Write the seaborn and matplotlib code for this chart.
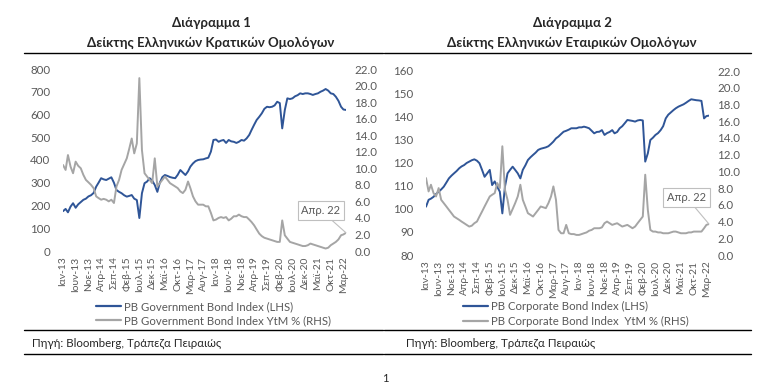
import pandas as pd
import numpy as np
import matplotlib.pyplot as plt
import seaborn as sns
from matplotlib.lines import Line2D

# monthly readings, Jan-13 .. Apr-22
gov_index = [175, 185, 170, 195, 210, 190, 205, 215, 225, 230, 240, 245,
             255, 283, 300, 320, 315, 312, 318, 324, 300, 268, 260, 254,
             245, 239, 242, 246, 230, 224, 145, 254, 298, 305, 320, 310,
             290, 260, 300, 325, 334, 330, 325, 322, 320, 335, 356, 345,
             334, 350, 371, 385, 395, 400, 402, 403, 407, 410, 437, 488,
             490, 480, 485, 488, 475, 488, 482, 480, 475, 480, 488, 485,
             495, 510, 532, 555, 576, 590, 605, 625, 634, 632, 634, 640,
             656, 650, 539, 620, 671, 668, 671, 680, 685, 693, 690, 693,
             693, 690, 686, 690, 693, 700, 705, 712, 705, 693, 690, 678,
             660, 634, 622, 620]
gov_ytm = [10.4, 9.8, 11.6, 10.2, 9.4, 10.8, 10.3, 10.0, 9.2, 8.6, 8.3, 8.0,
           7.6, 6.6, 6.4, 6.2, 6.3, 6.2, 6.0, 6.2, 5.8, 7.8, 8.6, 9.8,
           10.5, 11.2, 12.3, 13.6, 11.8, 13.0, 20.9, 12.2, 9.4, 9.0, 8.6, 8.2,
           11.2, 7.8, 8.2, 8.6, 9.0, 8.6, 8.2, 8.0, 7.8, 7.6, 7.2, 7.0,
           7.4, 8.4, 7.6, 6.6, 6.0, 5.6, 5.6, 5.6, 5.4, 5.4, 4.6, 3.7,
           3.8, 4.0, 4.1, 4.0, 4.1, 3.7, 3.9, 4.2, 4.2, 4.4, 4.2, 4.1,
           4.1, 3.8, 3.5, 3.1, 2.6, 2.1, 1.8, 1.6, 1.5, 1.4, 1.3, 1.2,
           1.1, 1.1, 3.7, 1.9, 1.5, 1.1, 1.0, 0.9, 0.8, 0.7, 0.6, 0.6,
           0.7, 0.9, 0.8, 0.7, 0.6, 0.5, 0.4, 0.3, 0.4, 0.7, 0.9, 1.1,
           1.4, 1.9, 2.0, 2.2]
corp_index = [101, 104, 104.5, 105.3, 106.5, 107.5, 108.5, 109.7, 111.5, 113.3, 114.5, 115.5,
              116.5, 117.7, 118.5, 119.1, 120, 120.6, 121.2, 121.6, 121, 119.9, 117, 114,
              115.5, 117, 110.4, 112, 109.7, 107.5, 98.1, 109.7, 115.5, 117, 118.4, 117,
              115.5, 113.3, 117, 119, 121.3, 122.5, 123.5, 124.5, 125.7, 126.2, 126.5, 126.8,
              127.3, 128.3, 129.3, 130.7, 131.5, 132.6, 133.6, 134, 134.5, 135.1, 135.1, 135.1,
              135.5, 135.5, 135.8, 135.5, 135.1, 134, 132.9, 133.5, 133.6, 134.3, 132.2, 133,
              133.5, 134.3, 132.9, 133.5, 135.1, 136, 137.3, 138.7, 138.5, 138.3, 138, 138.5,
              138.7, 138.5, 120.6, 124.2, 130, 131, 132.2, 133, 134.3, 136, 139.4, 141,
              142, 143, 143.8, 144.5, 145, 145.5, 146.2, 147, 147.7, 147.5, 147.3, 147.2,
              147, 139.4, 140.4, 140.6]
corp_ytm = [9.2, 7.6, 8.4, 7.4, 7.0, 8.0, 6.6, 6.2, 5.8, 5.4, 5.0, 4.6,
            4.4, 4.2, 4.0, 3.8, 3.6, 3.4, 3.5, 3.8, 4.0, 4.6, 5.2, 5.8,
            6.4, 7.0, 7.2, 7.4, 8.6, 8.0, 13.0, 7.8, 6.6, 4.8, 5.5, 6.2,
            7.0, 8.4, 6.6, 5.8, 5.0, 4.8, 4.6, 5.0, 5.4, 5.8, 5.7, 5.6,
            6.2, 7.0, 8.2, 6.6, 3.0, 2.6, 2.6, 3.6, 2.6, 2.5, 2.5, 2.4,
            2.4, 2.5, 2.6, 2.7, 2.9, 3.0, 3.2, 3.2, 3.2, 3.3, 3.8, 4.0,
            3.8, 3.6, 3.7, 3.8, 3.6, 3.4, 3.5, 3.6, 3.4, 3.2, 3.4, 3.8,
            4.2, 4.6, 9.6, 5.4, 3.0, 2.8, 2.8, 2.7, 2.7, 2.6, 2.6, 2.6,
            2.7, 2.8, 2.8, 2.7, 2.6, 2.6, 2.6, 2.7, 2.7, 2.8, 2.8, 2.8,
            2.8, 3.2, 3.6, 3.7]

tick_labels = ["Ιαν-13", "Ιουν-13", "Νοε-13", "Απρ-14", "Σεπ-14", "Φεβ-15", "Ιουλ-15",
               "Δεκ-15", "Μαϊ-16", "Οκτ-16", "Μαρ-17", "Αυγ-17", "Ιαν-18", "Ιουν-18",
               "Νοε-18", "Απρ-19", "Σεπ-19", "Φεβ-20", "Ιουλ-20", "Δεκ-20", "Μαϊ-21",
               "Οκτ-21", "Μαρ-22"]

sns.set_theme(style="white")
plt.rcParams['font.family'] = ['Lato', 'DejaVu Sans']

dates = pd.date_range("2013-01-01", periods=len(gov_index), freq="MS")
tick_dates = pd.date_range("2013-01-01", periods=len(tick_labels), freq="5MS")
df = pd.DataFrame({"date": dates, "gov_index": gov_index, "gov_ytm": gov_ytm,
                   "corp_index": corp_index, "corp_ytm": corp_ytm})

BLUE = "#2F5597"
GREY = "#A5A5A5"
TXT = "#595959"
W, H = 767, 388

fig = plt.figure(figsize=(W / 100, H / 100), dpi=100)


def fx(px):
    return px / W


def fy(py):
    return 1 - py / H


def panel(x0, x1, y0, y1, idx_col, ytm_col, lims, step, lab_idx, lab_ytm, xleg, note_off):
    ax = fig.add_axes([fx(x0), fy(y1), fx(x1 - x0), (y1 - y0) / H])
    ax2 = ax.twinx()
    sns.lineplot(data=df, x="date", y=idx_col, ax=ax, color=BLUE, lw=1.4, label=lab_idx, legend=False)
    sns.lineplot(data=df, x="date", y=ytm_col, ax=ax2, color=GREY, lw=1.4, label=lab_ytm, legend=False)
    ax.set_ylim(*lims)
    ax.set_yticks(np.arange(lims[0], lims[1] + 1, step))
    ax2.set_ylim(0, 22)
    ax2.set_yticks(np.arange(0, 23, 2))
    ax2.set_yticklabels([f"{v:.1f}" for v in np.arange(0, 23, 2)])
    ax.set_xlim(dates[0], dates[-1])
    ax.set_xticks(tick_dates)
    ax.set_xticklabels(tick_labels, rotation=90)
    for a in (ax, ax2):
        a.set_xlabel("")
        a.set_ylabel("")
        for s in a.spines.values():
            s.set_visible(False)
        a.tick_params(length=0, labelsize=8.3, colors=TXT)
    ax.tick_params(axis="x", labelsize=7.4, pad=4)
    ax.tick_params(axis="y", pad=9)
    ax2.tick_params(axis="y", pad=6)
    ax2.annotate("Απρ. 22", xy=(dates[-1], df[ytm_col].iloc[-1]), xytext=note_off,
                 textcoords="offset points", ha="center", va="center", fontsize=8, color=TXT,
                 bbox=dict(boxstyle="square,pad=0.35", fc="white", ec="#BFBFBF", lw=0.8),
                 arrowprops=dict(arrowstyle="-", color="#BFBFBF", lw=0.8, shrinkA=0, shrinkB=0))
    handles = [Line2D([], [], color=BLUE, lw=1.6), Line2D([], [], color=GREY, lw=1.6)]
    fig.legend(handles, [lab_idx, lab_ytm], loc="upper left", bbox_to_anchor=(fx(xleg), fy(301)),
               frameon=False, fontsize=8.2, labelcolor=TXT, handlelength=2.2, handletextpad=0.3,
               labelspacing=0.3, borderpad=0, borderaxespad=0)
    return ax


panel(63, 346, 69, 251, "gov_index", "gov_ytm", (0, 800), 100,
      "PB Government Bond Index (LHS)", "PB Government Bond Index YtM % (RHS)", 96, (-18, 16))
panel(426, 709, 71, 255, "corp_index", "corp_ytm", (80, 160), 10,
      "PB Corporate Bond Index (LHS)", "PB Corporate Bond Index  YtM % (RHS)", 463, (-16, 19))

# titles, rules and source notes
for cx, t1, t2 in [(211, "Διάγραμμα 1", "Δείκτης Ελληνικών Κρατικών Ομολόγων"),
                   (572, "Διάγραμμα 2", "Δείκτης Ελληνικών Εταιρικών Ομολόγων")]:
    fig.text(fx(cx), fy(23), t1, ha="center", va="center", fontsize=9.5, fontweight="bold")
    fig.text(fx(cx), fy(43), t2, ha="center", va="center", fontsize=9.5, fontweight="bold")

for xa, xb in [(24, 383), (384, 751)]:
    for yy in (53, 330, 354):
        fig.add_artist(Line2D([fx(xa), fx(xb)], [fy(yy), fy(yy)], color="black", lw=1.0))

for xs in (32, 406):
    fig.text(fx(xs), fy(343), "Πηγή: Bloomberg, Τράπεζα Πειραιώς", ha="left", va="center", fontsize=8.3)

fig.text(fx(385), fy(378), "1", ha="center", va="center", fontsize=8)

fig.savefig("out.png", dpi=100)
